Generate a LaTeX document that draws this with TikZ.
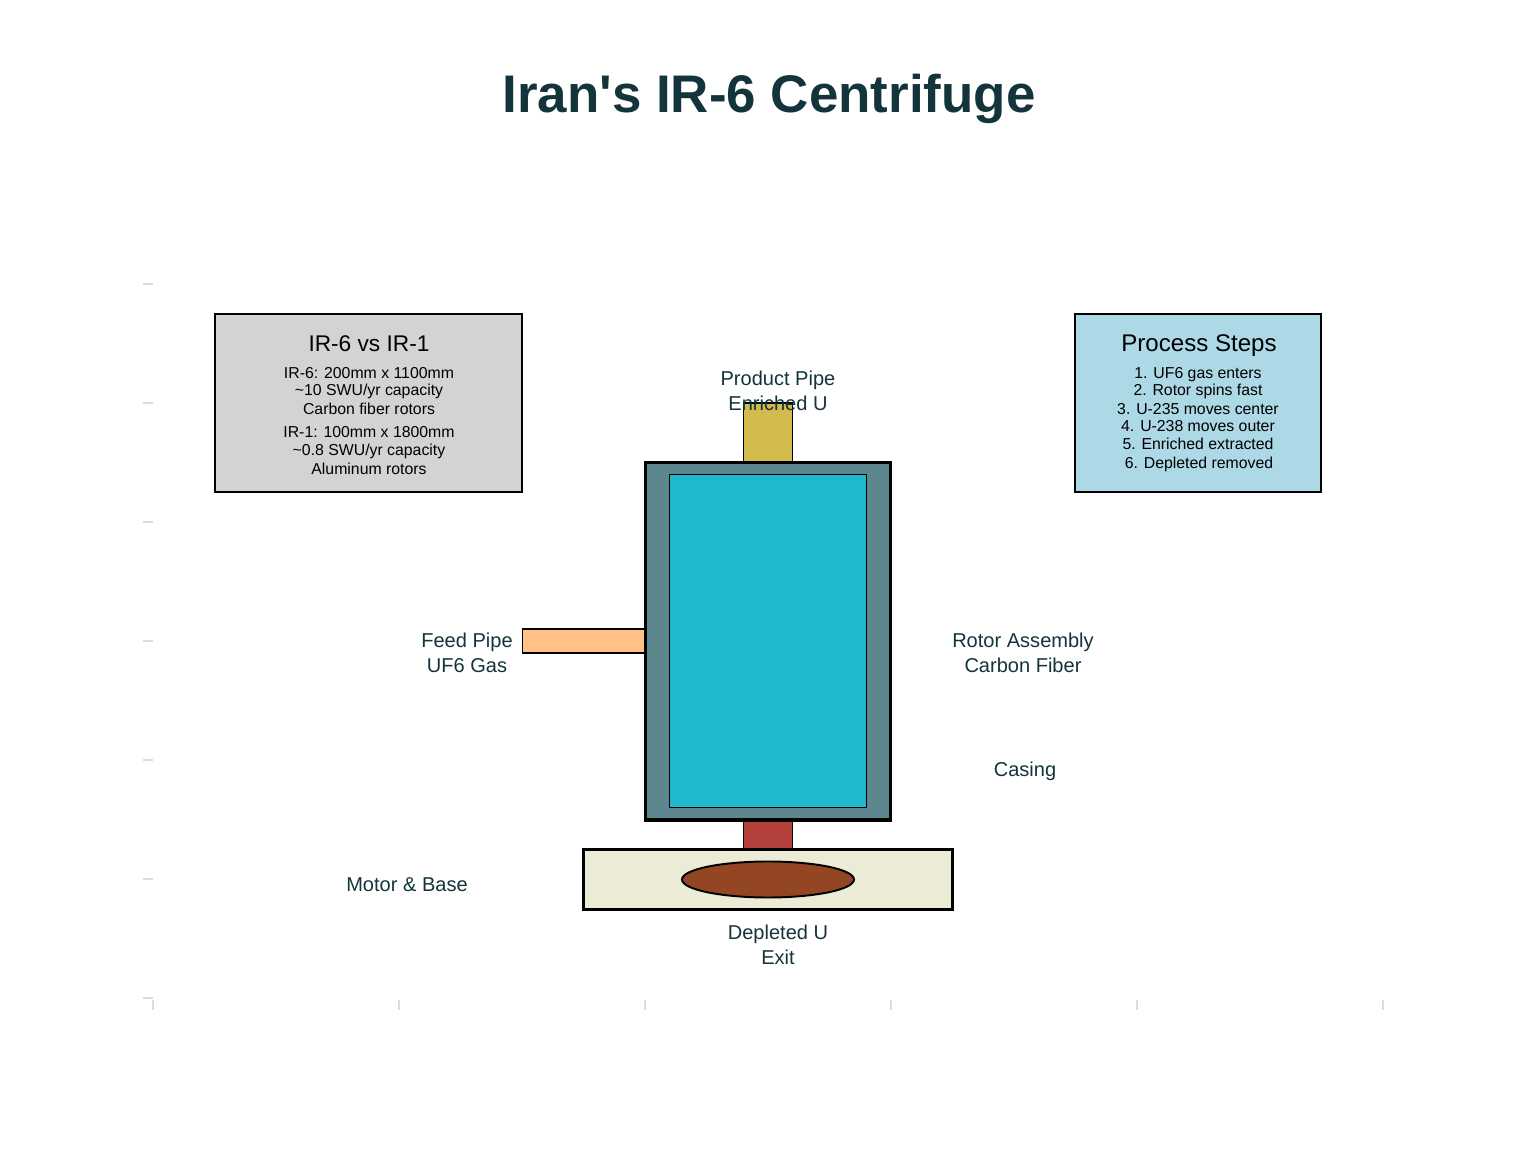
\documentclass[tikz,border=0pt]{standalone}
\usepackage{fontspec}
\setmainfont{Liberation Sans}
\newfontfamily\plainfont{Liberation Sans}
\definecolor{inkblue}{HTML}{13343B}
\definecolor{tickgrey}{HTML}{DCDCDC}
\definecolor{casingfill}{HTML}{5D878F}
\definecolor{rotorfill}{HTML}{1FB8CD}
\definecolor{productfill}{HTML}{D2BA4C}
\definecolor{feedfill}{HTML}{FFC185}
\definecolor{shaftfill}{HTML}{B4413C}
\definecolor{basefill}{HTML}{ECEBD5}
\definecolor{exitfill}{HTML}{944524}
\definecolor{comparefill}{HTML}{D3D3D3}
\definecolor{stepsfill}{HTML}{ADD8E6}
\begin{document}
\begin{tikzpicture}[x=0.01cm,y=0.01cm]
    \tikzstyle{every node}+=[inner sep=0pt]
    \tikzstyle{thinpart}=[draw=black,line width=0.55pt]
    \tikzstyle{thickpart}=[draw=black,line width=0.9pt]
    \tikzstyle{axistick}=[draw=tickgrey,line width=0.3pt]
    \tikzstyle{titletext}=[anchor=base,text=inkblue,font=\fontsize{15.05}{17}\plainfont\bfseries]
    \tikzstyle{labeltext}=[anchor=base,text=inkblue,font=\fontsize{5.7}{7}\selectfont]
    \tikzstyle{boxhead}=[anchor=base,text=black,font=\fontsize{6.85}{8}\selectfont]
    \tikzstyle{boxline}=[anchor=base,text=black,font=\fontsize{4.5}{5}\selectfont]
    \useasboundingbox (0,0) rectangle (1536,-1152);
    % axis ticks
    \draw [axistick] (143,-284) -- (153,-284);
    \draw [axistick] (143,-403) -- (153,-403);
    \draw [axistick] (143,-522) -- (153,-522);
    \draw [axistick] (143,-641) -- (153,-641);
    \draw [axistick] (143,-760) -- (153,-760);
    \draw [axistick] (143,-879) -- (153,-879);
    \draw [axistick] (143,-998) -- (153,-998);
    \draw [axistick] (153,-1000) -- (153,-1010);
    \draw [axistick] (399,-1000) -- (399,-1010);
    \draw [axistick] (645,-1000) -- (645,-1010);
    \draw [axistick] (891,-1000) -- (891,-1010);
    \draw [axistick] (1137,-1000) -- (1137,-1010);
    \draw [axistick] (1383,-1000) -- (1383,-1010);
    % centrifuge
    \draw [thinpart,fill=productfill] (743.5,-403) rectangle (792.5,-462);
    \draw [thinpart,fill=feedfill] (522.5,-629) rectangle (645,-653);
    \draw [thinpart,fill=shaftfill] (743.5,-820) rectangle (792.5,-849);
    \draw [thickpart,fill=casingfill] (645.5,-462.5) rectangle (890.5,-820);
    \draw [thinpart,fill=rotorfill] (669.5,-474.5) rectangle (866.5,-807.5);
    \draw [thickpart,fill=basefill] (583.5,-849.5) rectangle (952.5,-909.5);
    \draw [thinpart,fill=exitfill] (768,-879.5) ellipse (86 and 18);
    % info boxes
    \draw [thinpart,fill=comparefill] (215,-314) rectangle (522,-492);
    \draw [thinpart,fill=stepsfill] (1075,-314) rectangle (1321,-492);
    % title
    \node (title) [titletext] at (769,-113) {Iran's IR-6 Centrifuge};
    % part labels
    \node (productA) [labeltext] at (778,-386) {Product Pipe};
    \node (productB) [labeltext] at (778,-411) {Enriched U};
    \node (feedA) [labeltext] at (467,-647) {Feed Pipe};
    \node (feedB) [labeltext] at (467,-672.5) {UF6 Gas};
    \node (rotorA) [labeltext] at (1023,-647) {Rotor Assembly};
    \node (rotorB) [labeltext] at (1023,-672.5) {Carbon Fiber};
    \node (casing) [labeltext] at (1025,-776) {Casing};
    \node (motor) [labeltext] at (407,-891) {Motor \& Base};
    \node (exitA) [labeltext] at (778,-939) {Depleted U};
    \node (exitB) [labeltext] at (778,-964) {Exit};
    % comparison box text
    \node (compareHead) [boxhead,font=\fontsize{6.45}{8}\selectfont] at (369,-352) {IR-6 vs IR-1};
    \node (compareA) [boxline] at (369,-379) {IR-6: 200mm x 1100mm};
    \node (compareB) [boxline] at (369,-396) {\textasciitilde 10 SWU/yr capacity};
    \node (compareC) [boxline] at (369,-415) {Carbon fiber rotors};
    \node (compareD) [boxline] at (369,-438) {IR-1: 100mm x 1800mm};
    \node (compareE) [boxline] at (369,-456) {\textasciitilde 0.8 SWU/yr capacity};
    \node (compareF) [boxline] at (369,-475) {Aluminum rotors};
    % process box text
    \node (stepsHead) [boxhead] at (1199,-352) {Process Steps};
    \node (stepsA) [boxline] at (1198,-379) {1. UF6 gas enters};
    \node (stepsB) [boxline] at (1198,-396) {2. Rotor spins fast};
    \node (stepsC) [boxline] at (1198,-415) {3. U-235 moves center};
    \node (stepsD) [boxline] at (1198,-432) {4. U-238 moves outer};
    \node (stepsE) [boxline] at (1198,-450) {5. Enriched extracted};
    \node (stepsF) [boxline] at (1199,-469) {6. Depleted removed};
\end{tikzpicture}
\end{document}
